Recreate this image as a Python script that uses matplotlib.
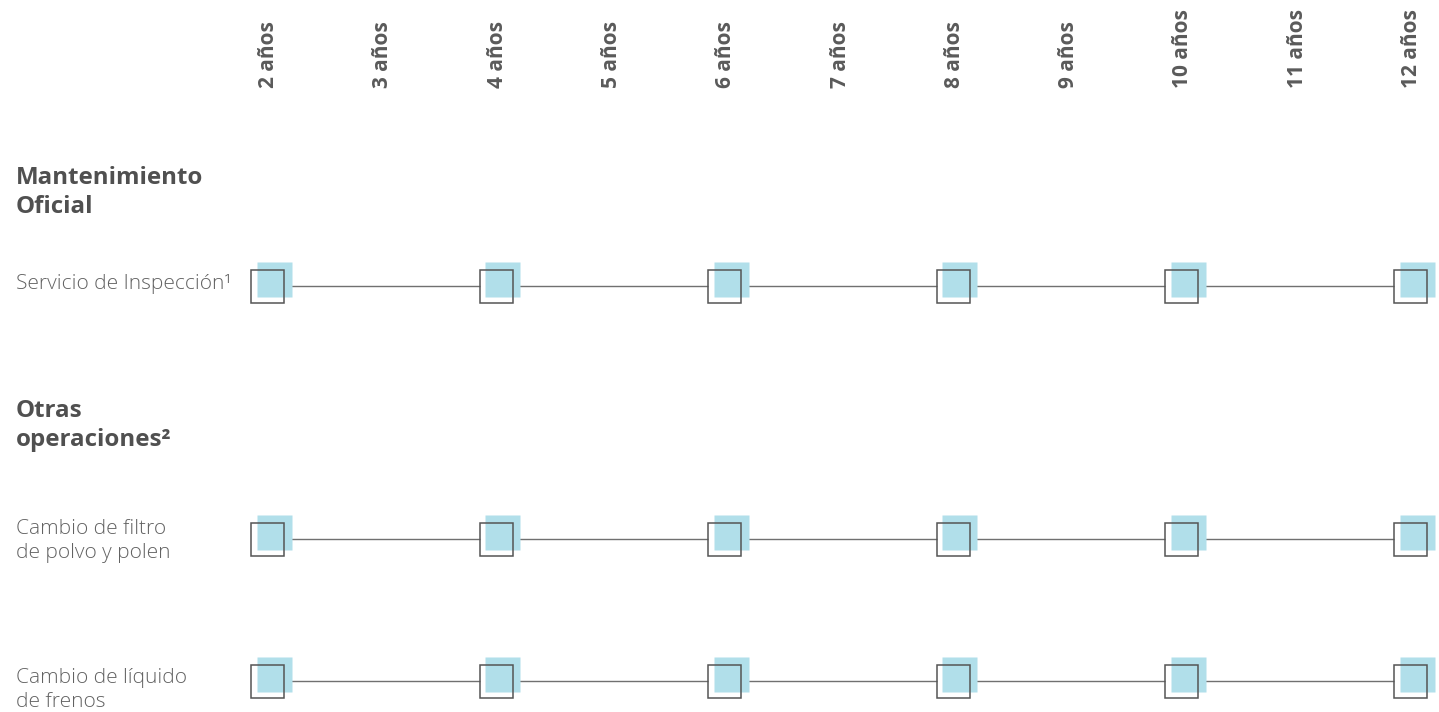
import matplotlib
matplotlib.use('Agg')
import matplotlib.pyplot as plt
from matplotlib.transforms import ScaledTranslation

# data
years = [2, 3, 4, 5, 6, 7, 8, 9, 10, 11, 12]
year_labels = [f'{y} años' for y in years]
sections = ['Mantenimiento\nOficial', 'Otras\noperaciones²']
rows = ['Servicio de Inspección¹',
        'Cambio de filtro\nde polvo y polen',
        'Cambio de líquido\nde frenos']
row_years = [
    [2, 4, 6, 8, 10, 12],
    [2, 4, 6, 8, 10, 12],
    [2, 4, 6, 8, 10, 12],
]

# layout (pixel positions, top-down); text y = baseline of last line
W, H, DPI = 1439, 712, 100
row_y = [285.5, 539, 681]
section_y = [213, 446]
label_y = [289, 558, 707]
px_per_year = (1410 - 267) / 10.0
FONT = 'Open Sans'

fig = plt.figure(figsize=(W / DPI, H / DPI), dpi=DPI)
ax = fig.add_axes([0, 0, 1, 1])
ax.set_xlim(2 - 267 / px_per_year, 2 + (W - 267) / px_per_year)
ax.set_ylim(H, 0)
ax.axis('off')

ms_box = 33 * 72 / DPI
ms_blue = 35 * 72 / DPI
shift = ScaledTranslation(6.5 / DPI, 7 / DPI, fig.dpi_scale_trans)

for yr, y in zip(row_years, row_y):
    yy = [y] * len(yr)
    ax.plot(yr, yy, color='#707070', lw=1.0, zorder=1)
    # white fill hides the line inside the box
    ax.plot(yr, yy, ls='none', marker='s', ms=ms_box, mfc='white', mec='none', zorder=2)
    ax.plot(yr, yy, ls='none', marker='s', ms=ms_blue, mfc='#b1dfea', mec='none',
            zorder=3, transform=ax.transData + shift)
    ax.plot(yr, yy, ls='none', marker='s', ms=ms_box, mfc='none', mec='#555555',
            mew=1.1, zorder=4)

label_shift = ScaledTranslation(1.5 / DPI, 0, fig.dpi_scale_trans)
for x, lab in zip(years, year_labels):
    ax.text(x, 88, lab, rotation=90, ha='center', va='bottom', fontsize=15,
            fontweight='bold', color='#5a5a5a', family=FONT,
            transform=ax.transData + label_shift)

for s, y in zip(sections, section_y):
    fig.text(16 / W, 1 - y / H, s, ha='left', va='baseline', fontsize=17.4,
             fontweight='bold', color='#505050', family=FONT, linespacing=1.28)

for lab, y in zip(rows, label_y):
    fig.text(16 / W, 1 - y / H, lab, ha='left', va='baseline', fontsize=15,
             fontweight='light', color='#626262', family=FONT, linespacing=1.25)

fig.savefig('out.png', dpi=DPI, facecolor='white')
